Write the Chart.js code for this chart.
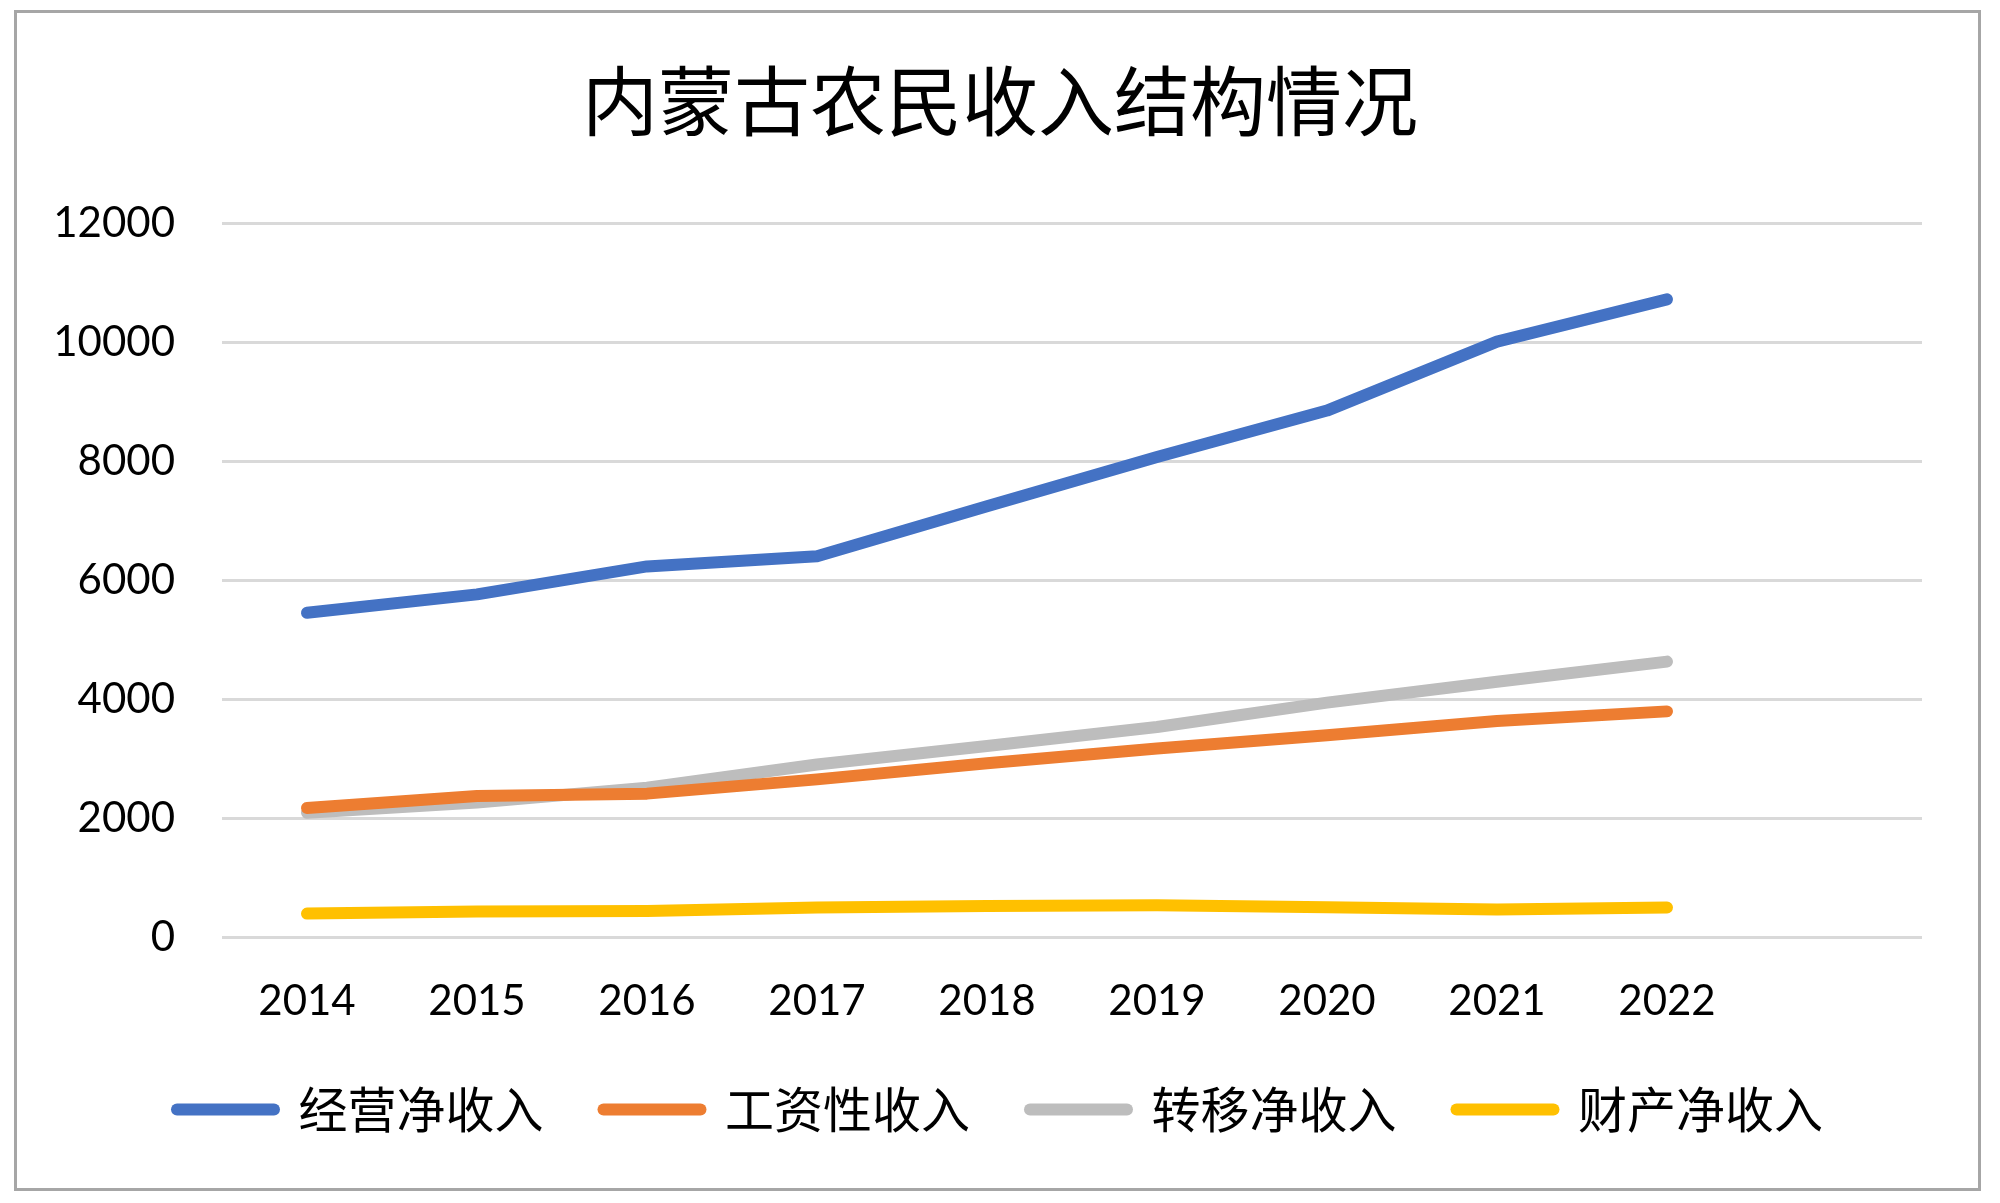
<!DOCTYPE html>
<html>
<head>
<meta charset="utf-8">
<script src="https://cdn.jsdelivr.net/npm/chart.js@4/dist/chart.umd.min.js"></script>
<style>
  html, body { margin: 0; padding: 0; background: #ffffff; }
  canvas { display: block; }
</style>
</head>
<body>
<canvas id="c" width="2000" height="1203" style="width:2000px;height:1203px"></canvas>
<script>
const titleText = '内蒙古农民收入结构情况';
const years = ['2014', '2015', '2016', '2017', '2018', '2019', '2020', '2021', '2022', ''];
const seriesNames = ['经营净收入', '工资性收入', '转移净收入', '财产净收入'];
const operating = [5450, 5760, 6230, 6400, 7240, 8070, 8850, 10010, 10720];
const wages = [2170, 2370, 2410, 2650, 2920, 3170, 3390, 3630, 3793];
const transfer = [2090, 2260, 2510, 2900, 3210, 3530, 3940, 4290, 4630];
const property = [393, 427, 437, 494, 521, 533, 501, 462, 497];
const yTicks = [0, 2000, 4000, 6000, 8000, 10000, 12000];
const colors = ['#4472C4', '#ED7D31', '#BDBDBD', '#FFC000'];

const seriesValues = [operating, wages, transfer, property];

const borderPlugin = {
  id: 'outerBorder',
  beforeDraw(chart) {
    const ctx = chart.ctx;
    ctx.save();
    ctx.fillStyle = '#ffffff';
    ctx.fillRect(0, 0, chart.width, chart.height);
    ctx.restore();
  },
  afterDraw(chart) {
    const ctx = chart.ctx;
    ctx.save();
    ctx.strokeStyle = '#a6a6a6';
    ctx.lineWidth = 3;
    ctx.strokeRect(15.5, 11.5, 1964, 1178);
    ctx.restore();
  }
};

const tickFont = { family: "Lato, 'Noto Sans CJK SC', sans-serif", size: 42 };
const cjkFamily = "'Noto Sans CJK SC', 'Noto Sans', sans-serif";

new Chart(document.getElementById('c'), {
  type: 'line',
  data: {
    labels: years,
    datasets: seriesNames.map((name, i) => ({
      label: name,
      data: seriesValues[i],
      borderColor: colors[i],
      backgroundColor: colors[i],
      borderWidth: 12,
      borderCapStyle: 'round',
      borderJoinStyle: 'round',
      pointRadius: 0,
      pointHoverRadius: 0,
      pointStyle: 'line',
      tension: 0,
      fill: false
    }))
  },
  options: {
    responsive: false,
    devicePixelRatio: 1,
    animation: false,
    layout: { padding: { left: 20, right: 20, top: 10, bottom: 59 } },
    plugins: {
      title: {
        display: true,
        text: titleText,
        color: '#000000',
        font: { family: cjkFamily, size: 76, weight: 'normal' },
        padding: { top: 46, bottom: 76 }
      },
      legend: {
        display: true,
        position: 'bottom',
        labels: {
          usePointStyle: true,
          pointStyleWidth: 97,
          color: '#000000',
          font: { family: cjkFamily, size: 49 },
          padding: 60,
          generateLabels(chart) {
            const items = Chart.defaults.plugins.legend.labels.generateLabels(chart);
            return items.map((it, i) => Object.assign(it, {
              pointStyle: 'line',
              lineCap: 'round',
              lineWidth: 12,
              strokeStyle: colors[i],
              fillStyle: colors[i]
            }));
          }
        }
      },
      tooltip: { enabled: false }
    },
    scales: {
      x: {
        type: 'category',
        offset: true,
        grid: { display: false, drawTicks: false },
        border: { display: false },
        ticks: {
          color: '#000000',
          font: tickFont,
          padding: 39,
          maxRotation: 0,
          autoSkip: false
        },
        afterFit(s) { s.height = 88; }
      },
      y: {
        min: 0,
        max: 12000,
        grid: { color: '#d9d9d9', lineWidth: 3, drawTicks: false },
        border: { display: false },
        afterBuildTicks(s) { s.ticks = yTicks.map(v => ({ value: v })); },
        ticks: {
          color: '#000000',
          font: tickFont,
          padding: 47,
          callback: v => String(v)
        },
        afterFit(s) { s.width = 202; }
      },
      y2: {
        position: 'right',
        display: true,
        grid: { drawOnChartArea: false, drawTicks: false },
        border: { display: false },
        ticks: { display: false },
        afterFit(s) { s.width = 58; }
      }
    }
  },
  plugins: [borderPlugin]
});
</script>
</body>
</html>
